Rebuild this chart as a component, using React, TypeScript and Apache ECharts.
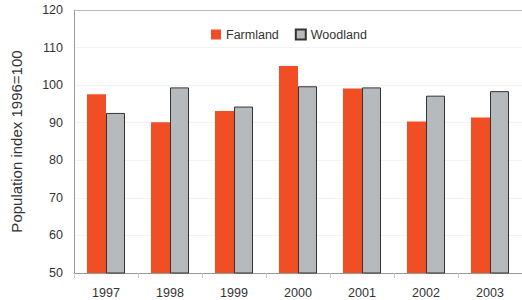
import React, { useEffect, useRef } from "react";
import * as echarts from "echarts";

const years = ["1997", "1998", "1999", "2000", "2001", "2002", "2003"];
const farmland = [97.6, 90.1, 93.1, 105.1, 99.1, 90.3, 91.4];
const woodland = [92.6, 99.4, 94.3, 99.7, 99.4, 97.2, 98.4];
const yMin = 50;
const yMax = 120;
const yStep = 10;

export default function App() {
  const ref = useRef<HTMLDivElement>(null);
  useEffect(() => {
    if (!ref.current) return;
    const chart = echarts.init(ref.current, undefined, { renderer: "svg" });
    const font = "'Liberation Sans', Arial, Helvetica, sans-serif";
    chart.setOption({
      animation: false,
      backgroundColor: "#ffffff",
      textStyle: { fontFamily: font },
      grid: { left: 74, right: -3, top: 10, bottom: 27 },
      legend: {
        top: 23,
        left: 206,
        itemWidth: 10,
        itemHeight: 10,
        itemGap: 16,
        icon: "rect",
        textStyle: { fontSize: 12.5, color: "#333", fontFamily: font },
        data: ["Farmland", "Woodland"],
      },
      xAxis: [
        {
          type: "category",
          data: years,
          axisLine: { lineStyle: { color: "#999", width: 1 } },
          axisTick: { show: true, length: 5, lineStyle: { color: "#ccc" } },
          axisLabel: { fontSize: 12.5, color: "#333", margin: 13, fontFamily: font },
        },
        {
          type: "category",
          data: years,
          position: "top",
          axisLine: { show: true, lineStyle: { color: "#bbb", width: 1 } },
          axisTick: { show: false },
          axisLabel: { show: false },
        },
      ],
      yAxis: {
        type: "value",
        min: yMin,
        max: yMax,
        interval: yStep,
        name: "Population index 1996=100",
        nameLocation: "middle",
        nameGap: 50,
        nameTextStyle: { fontSize: 15, color: "#333", fontFamily: font },
        axisLine: { show: true, lineStyle: { color: "#999", width: 1 } },
        axisTick: { show: false },
        axisLabel: { fontSize: 12.5, color: "#333", margin: 11, fontFamily: font },
        splitLine: { show: true, lineStyle: { color: "#f3f3f3" } },
      },
      series: [
        {
          name: "Farmland",
          type: "bar",
          data: farmland,
          barWidth: 19,
          barGap: "0%",
          itemStyle: { color: "#f24e26" },
        },
        {
          name: "Woodland",
          type: "bar",
          data: woodland,
          barWidth: 19,
          barGap: "0%",
          itemStyle: { color: "#b6babd", borderColor: "#333", borderWidth: 1 },
        },
      ],
    });
    return () => chart.dispose();
  }, []);
  return (
    <div
      ref={ref}
      style={{ position: "fixed", left: 0, top: 0, width: 522, height: 300 }}
    />
  );
}
